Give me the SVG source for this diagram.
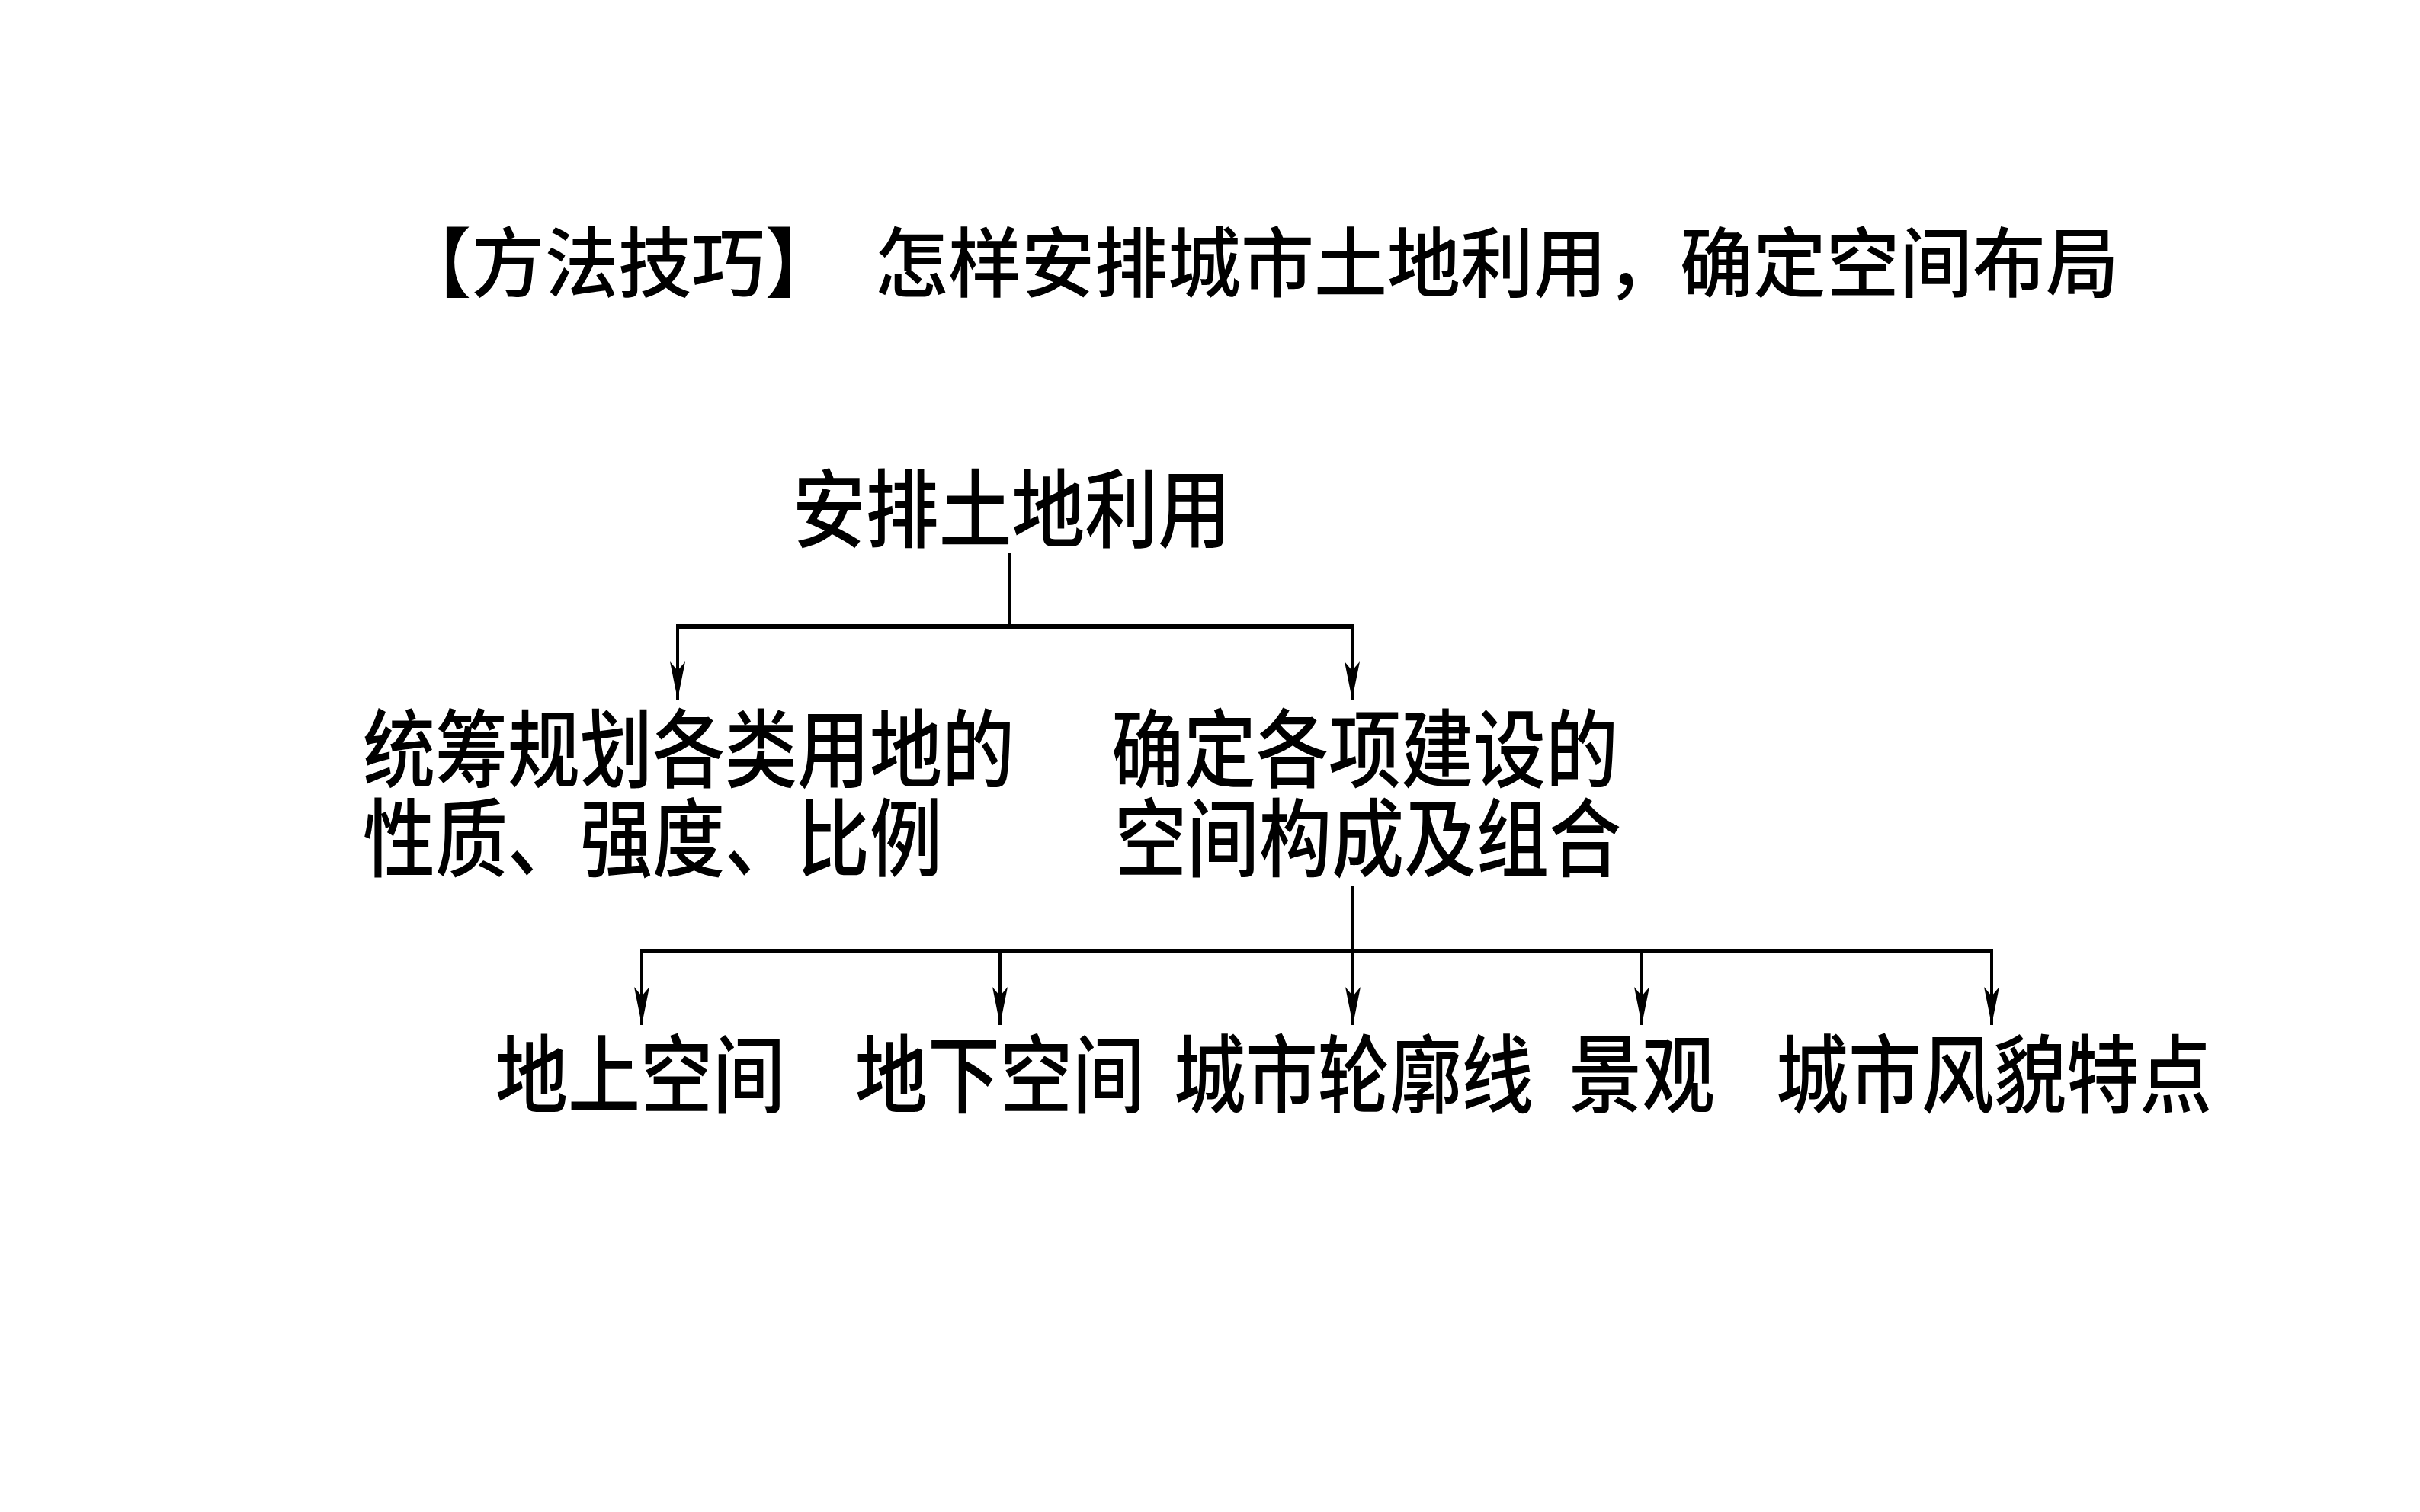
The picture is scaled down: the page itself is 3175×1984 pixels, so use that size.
<svg xmlns="http://www.w3.org/2000/svg" width="3175" height="1984" viewBox="0 0 3175 1984">
<defs>
<style>
.t{font-family:"Noto Sans CJK SC","Noto Sans",sans-serif;fill:#000;font-weight:500;}
.title{font-size:100px;}
.n{font-size:112px;}
.v{stroke:#000;stroke-width:4;fill:none;}
.h{stroke:#000;stroke-width:6;fill:none;}
</style>
<marker id="arr" viewBox="0 0 50 20" refX="50" refY="10" markerWidth="50" markerHeight="20" markerUnits="userSpaceOnUse" orient="auto">
<path d="M0,0 L50,10 L0,20 L12,10 Z" fill="#000"/>
</marker>
</defs>
<rect width="3175" height="1984" fill="#fff"/>
<g id="title">
<text class="t title" x="522" y="382" textLength="578" lengthAdjust="spacingAndGlyphs">【方法技巧】</text>
<text class="t title" x="1148" y="382" textLength="1632" lengthAdjust="spacingAndGlyphs">怎样安排城市土地利用，确定空间布局</text>
</g>
<g id="connectors">
<line class="v" x1="1324" y1="726" x2="1324" y2="822"/>
<line class="h" x1="887" y1="822" x2="1776" y2="822"/>
<line class="v" x1="889" y1="822" x2="889" y2="918" marker-end="url(#arr)"/>
<line class="v" x1="1774" y1="822" x2="1774" y2="918" marker-end="url(#arr)"/>
<line class="v" x1="1775" y1="1163" x2="1775" y2="1248"/>
<line class="h" x1="840" y1="1248" x2="2615" y2="1248"/>
<line class="v" x1="842" y1="1248" x2="842" y2="1345" marker-end="url(#arr)"/>
<line class="v" x1="1312" y1="1248" x2="1312" y2="1345" marker-end="url(#arr)"/>
<line class="v" x1="1775" y1="1248" x2="1775" y2="1345" marker-end="url(#arr)"/>
<line class="v" x1="2154" y1="1248" x2="2154" y2="1345" marker-end="url(#arr)"/>
<line class="v" x1="2613" y1="1248" x2="2613" y2="1345" marker-end="url(#arr)"/>
</g>
<g id="node-root"><text class="t n" x="1040" y="710" textLength="575" lengthAdjust="spacingAndGlyphs">安排土地利用</text></g>
<g id="node-left">
<text class="t n" x="476" y="1025" textLength="855" lengthAdjust="spacingAndGlyphs">统筹规划各类用地的</text>
<text class="t n" x="476" y="1142" textLength="760" lengthAdjust="spacingAndGlyphs">性质、强度、比例</text>
</g>
<g id="node-right">
<text class="t n" x="1458" y="1025" textLength="665" lengthAdjust="spacingAndGlyphs">确定各项建设的</text>
<text class="t n" x="1462" y="1142" textLength="665" lengthAdjust="spacingAndGlyphs">空间构成及组合</text>
</g>
<g id="node-1"><text class="t n" x="650" y="1452" textLength="380" lengthAdjust="spacingAndGlyphs">地上空间</text></g>
<g id="node-2"><text class="t n" x="1122" y="1452" textLength="380" lengthAdjust="spacingAndGlyphs">地下空间</text></g>
<g id="node-3"><text class="t n" x="1540" y="1452" textLength="472" lengthAdjust="spacingAndGlyphs">城市轮廓线</text></g>
<g id="node-4"><text class="t n" x="2058" y="1452" textLength="192" lengthAdjust="spacingAndGlyphs">景观</text></g>
<g id="node-5"><text class="t n" x="2330" y="1452" textLength="572" lengthAdjust="spacingAndGlyphs">城市风貌特点</text></g>
</svg>
